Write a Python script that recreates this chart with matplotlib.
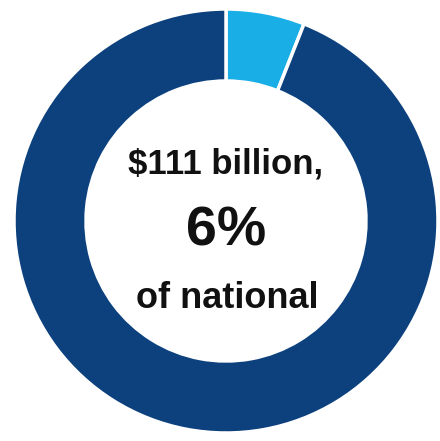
import matplotlib.pyplot as plt

# share of national total
labels = ['Region', 'Rest of nation']
shares = [6, 94]
colors = ['#1aaee6', '#0c417e']
amount = '$111 billion,'

fig = plt.figure(figsize=(4.4, 4.41), dpi=100)
ax = fig.add_axes([0, 0, 1, 1])

ax.pie(shares, colors=colors, startangle=90, counterclock=False,
       center=(226, 220), radius=212, frame=True,
       wedgeprops=dict(width=72, edgecolor='white', linewidth=2.5))
ax.set_xlim(0, 440)
ax.set_ylim(0, 441)
ax.set_aspect('equal')
ax.axis('off')

font = ['Liberation Sans', 'DejaVu Sans']
ax.text(226, 277, amount, ha='center', va='center', fontsize=25,
        fontweight='bold', family=font, color='#111111')
ax.text(226, 210, f'{shares[0]}%', ha='center', va='center', fontsize=40,
        fontweight='bold', family=font, color='#111111')
ax.text(227, 142, 'of national', ha='center', va='center', fontsize=26,
        fontweight='bold', family=font, color='#111111')

fig.savefig('out.png', dpi=100)
